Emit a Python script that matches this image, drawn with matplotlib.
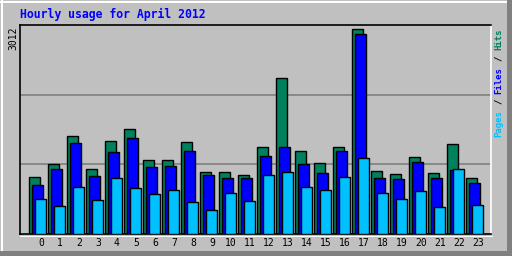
import matplotlib
matplotlib.use('Agg')
from matplotlib import pyplot as plt
from matplotlib.lines import Line2D

# data (hits / files / pages per hour)
hours = list(range(24))
hits = [825, 1009, 1419, 937, 1342, 1520, 1067, 1067, 1328, 893, 893, 854,
        1260, 2255, 1198, 1024, 1260, 2950, 908, 864, 1111, 879, 1299, 807]
files = [710, 937, 1318, 840, 1183, 1390, 966, 985, 1198, 850, 811, 811,
         1129, 1260, 1009, 879, 1198, 2882, 807, 792, 1038, 807, 922, 734]
pages = [502, 401, 676, 488, 807, 662, 575, 633, 459, 343, 589, 473,
         854, 893, 676, 633, 825, 1096, 589, 502, 618, 387, 937, 416]
ymax = 3012
title = 'Hourly usage for April 2012'

W, H = 512, 256
bg = '#c0c0c0'
c_hits = '#00805c'
c_files = '#0000ff'
c_pages = '#00c0ff'
mono = 'DejaVu Sans Mono'

fig = plt.figure(figsize=(W / 100, H / 100), dpi=100, facecolor=bg)

def px(x, y):
    # pixel (from top-left) -> figure fraction
    return x / W, 1 - y / H

def hline(x0, x1, y, color, lw=1):
    a, b = px(x0, y)
    c, d = px(x1, y)
    fig.add_artist(Line2D([a, c], [b, d], color=color, linewidth=lw * 0.72,
                          transform=fig.transFigure))

def vline(x, y0, y1, color, lw=1):
    a, b = px(x, y0)
    c, d = px(x, y1)
    fig.add_artist(Line2D([a, c], [b, d], color=color, linewidth=lw * 0.72,
                          transform=fig.transFigure))

# 3d frame around the image
hline(0, W, 0.5, 'black')
vline(0.5, 0, H, 'black')
hline(1, W - 4, 2, 'white', 2)
vline(2, 1, H - 4, 'white', 2)
hline(2, W, H - 3, '#808080', 5)
vline(W - 3, 2, H, '#808080', 5)

# plot area
l, t, r, b = 20, 25, 491, 234
ax = fig.add_axes([l / W, 1 - b / H, (r - l) / W, (b - t) / H])
ax.set_facecolor(bg)

slot = 19.0
x0 = -(29.3 - l) / slot
ax.set_xlim(x0, x0 + (r - l) / slot)
ax.set_ylim(0, ymax)

ax.axhline(ymax / 3, color='#808080', linewidth=1.2, zorder=1)
ax.axhline(ymax * 2 / 3, color='#808080', linewidth=1.2, zorder=1)

bw = 10.5 / slot
ax.bar([h for h in hours], hits, width=bw, align='edge', color=c_hits,
       edgecolor='black', linewidth=1.0, zorder=2)
ax.bar([h + 3 / slot for h in hours], files, width=bw, align='edge',
       color=c_files, edgecolor='black', linewidth=1.0, zorder=3)
ax.bar([h + 6 / slot for h in hours], pages, width=bw, align='edge',
       color=c_pages, edgecolor='black', linewidth=1.0, zorder=4)

ax.set_xticks([h + 0.61 for h in hours])
ax.set_xticklabels([str(h) for h in hours], family=mono, fontsize=7)
ax.tick_params(axis='x', length=0, pad=3)
ax.set_yticks([])

for side in ['top', 'left', 'bottom']:
    ax.spines[side].set_color('black')
    ax.spines[side].set_linewidth(1.2)
ax.spines['right'].set_color('white')
ax.spines['right'].set_linewidth(1.2)
hline(l, r + 1, b + 1.5, 'white', 1)

# texts
fig.text(*px(20, 14), title, color='#0000ff', family=mono, fontweight='bold',
         fontsize=8.3, ha='left', va='center')
fig.text(*px(13.7, 27), str(ymax), family=mono, fontsize=7, rotation=90,
         ha='center', va='top')

pieces = [('Pages', c_pages), (' / ', 'black'), ('Files', c_files),
          (' / ', 'black'), ('Hits', c_hits)]
fs = 6.5
cw = fs * 100 / 72 * 0.602
ypos = 137
for s, c in pieces:
    if s.strip():
        off = len(s) - len(s.lstrip())
        fig.text(*px(498.7, ypos - off * cw), s.strip(), color=c, family=mono,
                 fontweight='bold', fontsize=fs, rotation=90,
                 ha='center', va='bottom')
    ypos -= len(s) * cw

fig.savefig('out.png', dpi=100, facecolor=bg)
